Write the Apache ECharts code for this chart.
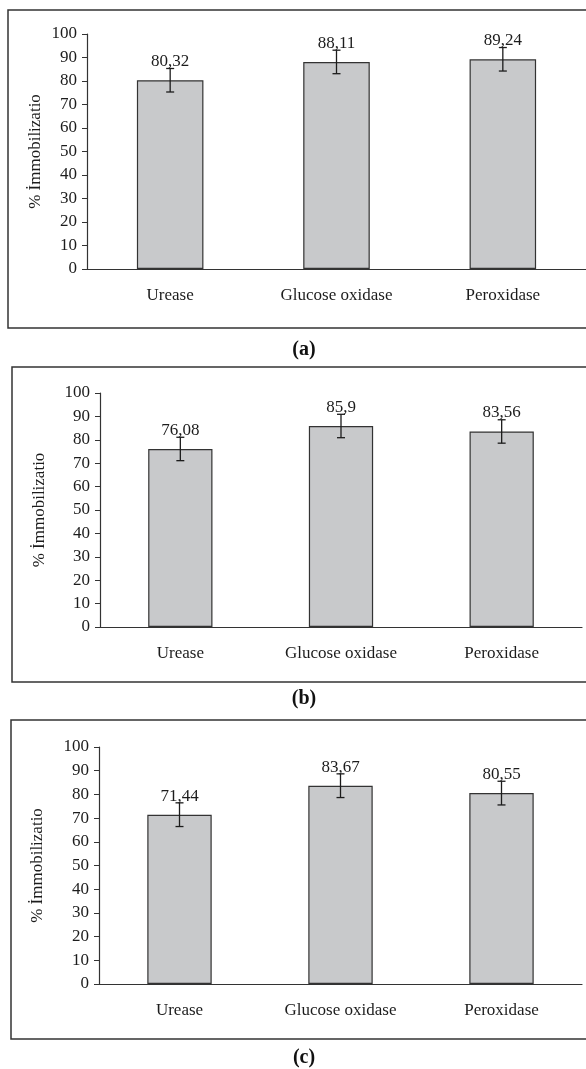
<!DOCTYPE html>
<html>
<head>
<meta charset="utf-8">
<script src="https://cdn.jsdelivr.net/npm/echarts@6/dist/echarts.min.js"></script>
<style>
  html, body { margin: 0; padding: 0; background: #fff; }
  #main { width: 586px; height: 1069px; }
</style>
</head>
<body>
<div id="main"></div>
<script>
var categories = ['Urease', 'Glucose oxidase', 'Peroxidase'];
var valuesA = [80.32, 88.11, 89.24];
var valuesB = [76.08, 85.9, 83.56];
var valuesC = [71.44, 83.67, 80.55];
var errorsA = [5, 5, 5];
var errorsB = [5, 5, 5];
var errorsC = [5, 5, 5];
var yMin = 0, yMax = 100, yStep = 10;
var panelNames = ['(a)', '(b)', '(c)'];
var yName = '% İmmobilization';

var chartDom = document.getElementById('main');
var myChart = echarts.init(chartDom);
var font = 'Liberation Serif';
var ink = '#1c1c1c';

var grids = [
  { left: 87, top: 34, width: 499, height: 235 },
  { left: 100, top: 393, width: 482, height: 234 },
  { left: 99, top: 747, width: 483, height: 237 }
];
var nameGaps = [43, 52, 53];
var panels = [valuesA, valuesB, valuesC];
var errs = [errorsA, errorsB, errorsC];
var boxes = [
  { x: 8, y: 10, h: 318, cap: 350 },
  { x: 12, y: 367, h: 315, cap: 699 },
  { x: 11, y: 720, h: 319, cap: 1058 }
];

function errorBar(params, api) {
  var i = api.value(0);
  var lo = api.coord([i, api.value(1)]);
  var hi = api.coord([i, api.value(2)]);
  var cap = 4;
  var style = { stroke: ink, lineWidth: 1.3 };
  return {
    type: 'group',
    children: [
      { type: 'line', shape: { x1: hi[0], y1: hi[1], x2: lo[0], y2: lo[1] }, style: style },
      { type: 'line', shape: { x1: hi[0] - cap, y1: hi[1], x2: hi[0] + cap, y2: hi[1] }, style: style },
      { type: 'line', shape: { x1: lo[0] - cap, y1: lo[1], x2: lo[0] + cap, y2: lo[1] }, style: style }
    ]
  };
}

var xAxes = [], yAxes = [], series = [], graphics = [];
grids.forEach(function (g, k) {
  xAxes.push({
    type: 'category',
    gridIndex: k,
    data: categories,
    axisLine: { lineStyle: { color: '#333', width: 1.2 } },
    axisTick: { show: false },
    axisLabel: { color: ink, fontFamily: font, fontSize: 17, margin: 18 }
  });
  yAxes.push({
    type: 'value',
    gridIndex: k,
    min: yMin,
    max: yMax,
    interval: yStep,
    name: yName,
    nameLocation: 'middle',
    nameGap: nameGaps[k],
    nameMoveOverlap: false,
    nameTruncate: { maxWidth: 121, ellipsis: '' },
    nameTextStyle: { color: ink, fontFamily: font, fontSize: 17 },
    axisLine: { show: true, lineStyle: { color: '#333', width: 1.2 } },
    axisTick: { show: true, length: 5, lineStyle: { color: '#333' } },
    splitLine: { show: false },
    axisLabel: { color: ink, fontFamily: font, fontSize: 17, margin: 10 }
  });
  series.push({
    type: 'bar',
    xAxisIndex: k,
    yAxisIndex: k,
    data: panels[k],
    barWidth: '40%',
    itemStyle: { color: '#c8c9cb', borderColor: '#333', borderWidth: 1.2 },
    label: {
      show: true,
      position: 'top',
      distance: 10,
      color: ink,
      fontFamily: font,
      fontSize: 17,
      formatter: function (p) { return String(p.value).replace('.', ','); }
    },
    silent: true
  });
  series.push({
    type: 'custom',
    xAxisIndex: k,
    yAxisIndex: k,
    renderItem: errorBar,
    encode: { x: 0, y: [1, 2] },
    data: panels[k].map(function (v, i) { return [i, v - errs[k][i], v + errs[k][i]]; }),
    z: 5,
    silent: true
  });
  var b = boxes[k];
  graphics.push({
    type: 'rect',
    shape: { x: b.x, y: b.y, width: 600, height: b.h },
    style: { fill: 'none', stroke: '#333', lineWidth: 1.5 },
    silent: true
  });
  graphics.push({
    type: 'text',
    x: 304,
    y: b.cap,
    style: {
      text: panelNames[k],
      fill: '#111',
      font: 'bold 20px "Liberation Serif"',
      align: 'center',
      verticalAlign: 'middle'
    }
  });
});

var option = {
  backgroundColor: '#fff',
  animation: false,
  grid: grids,
  xAxis: xAxes,
  yAxis: yAxes,
  series: series,
  graphic: graphics
};

option && myChart.setOption(option);
</script>
</body>
</html>
